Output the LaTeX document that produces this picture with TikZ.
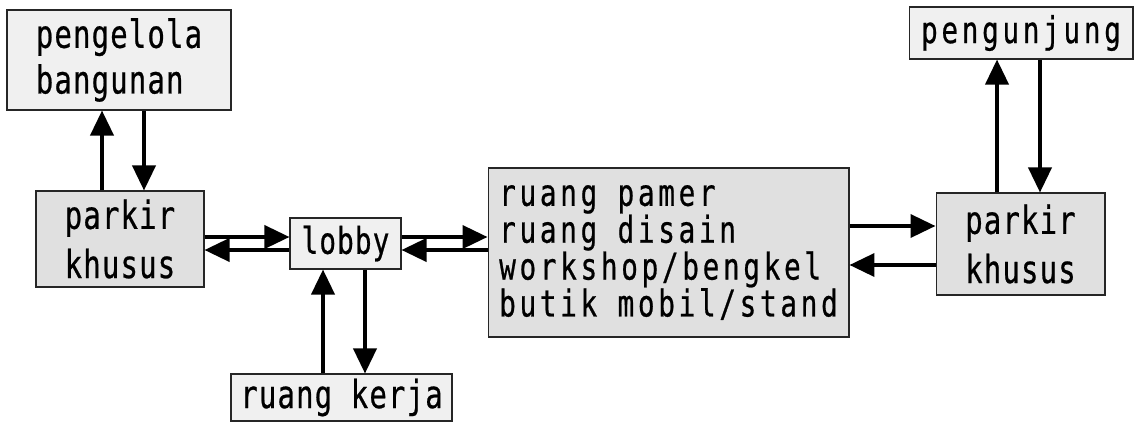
\documentclass[tikz,border=0pt]{standalone}
\usepackage{fontspec}
\newfontfamily\roomfont[FakeStretch=0.75,LetterSpace=3,FakeBold=0.6]{DejaVu Sans Mono}
\newfontfamily\roomwide[FakeStretch=0.75,LetterSpace=10,FakeBold=0.6]{DejaVu Sans Mono}
\usetikzlibrary{arrows.meta,calc}
\tikzset{
  room/.style={draw=black!85,line width=0.6pt,fill=gray!12,inner sep=0pt,align=left,font=\roomfont\fontsize{22}{26}\selectfont},
  roomdark/.style={room,fill=gray!24},
  flow/.style={line width=2.1pt,-{Triangle[length=0.5cm,width=0.46cm]}}
}

\begin{document}
\begin{tikzpicture}[x=0.02cm,y=-0.02cm]
				\useasboundingbox (0,0) rectangle (1136,423);
				% Rooms
				\node[room,minimum width=4.48cm,minimum height=2cm] (peng) at (119,60) {pengelola\\bangunan};
				\node[roomdark,minimum width=3.36cm,minimum height=1.92cm,font=\roomfont\fontsize{22}{28}\selectfont] (parkA) at (120,239) {parkir\\khusus};
				\node[room,minimum width=2.22cm,minimum height=1.02cm,font=\roomfont\fontsize{21}{24}\selectfont] (lobby) at (345.5,243.5) {lobby};
				\node[room,minimum width=4.42cm,minimum height=0.94cm] (kerja) at (341.5,397.5) {ruang kerja};
				\node[roomdark,minimum width=7.22cm,minimum height=3.38cm,font=\roomwide\fontsize{21}{21}\selectfont] (pamer) at (668.5,252.5) {ruang pamer\\ruang disain\\workshop/bengkel\\butik mobil/stand};
				\node[room,minimum width=4.48cm,minimum height=1.04cm,font=\roomwide\fontsize{21}{24}\selectfont] (tamu) at (1021,33) {pengunjung};
				\node[roomdark,minimum width=3.38cm,minimum height=2.04cm,font=\roomfont\fontsize{22}{28}\selectfont] (parkB) at (1020.5,244) {parkir\\khusus};
				
				% Left parking and management
				\draw[flow] ([xshift=-0.36cm]parkA.north) -- ([xshift=-0.36cm]parkA.north |- peng.south);
				\draw[flow] ([xshift=0.48cm]parkA.north |- peng.south) -- ([xshift=0.48cm]parkA.north);
				\draw[flow] ([yshift=0.13cm]lobby.west -| parkA.east) -- ([yshift=0.13cm]lobby.west);
				\draw[flow] ([yshift=-0.13cm]lobby.west) -- ([yshift=-0.13cm]lobby.west -| parkA.east);
				
				% Lobby
				\draw[flow] ([yshift=0.13cm]lobby.east) -- ([yshift=0.13cm]lobby.east -| pamer.west);
				\draw[flow] ([yshift=-0.13cm]lobby.east -| pamer.west) -- ([yshift=-0.13cm]lobby.east);
				\draw[flow] ([xshift=-0.45cm]lobby.south |- kerja.north) -- ([xshift=-0.45cm]lobby.south);
				\draw[flow] ([xshift=0.39cm]lobby.south) -- ([xshift=0.39cm]lobby.south |- kerja.north);
				
				% Right parking and visitors
				\draw[flow] ([yshift=0.36cm]parkB.west -| pamer.east) -- ([yshift=0.36cm]parkB.west);
				\draw[flow] ([yshift=-0.42cm]parkB.west) -- ([yshift=-0.42cm]parkB.west -| pamer.east);
				\draw[flow] ([xshift=-0.47cm]parkB.north) -- ([xshift=-0.47cm]parkB.north |- tamu.south);
				\draw[flow] ([xshift=0.39cm]parkB.north |- tamu.south) -- ([xshift=0.39cm]parkB.north);
			\end{tikzpicture}
\end{document}
